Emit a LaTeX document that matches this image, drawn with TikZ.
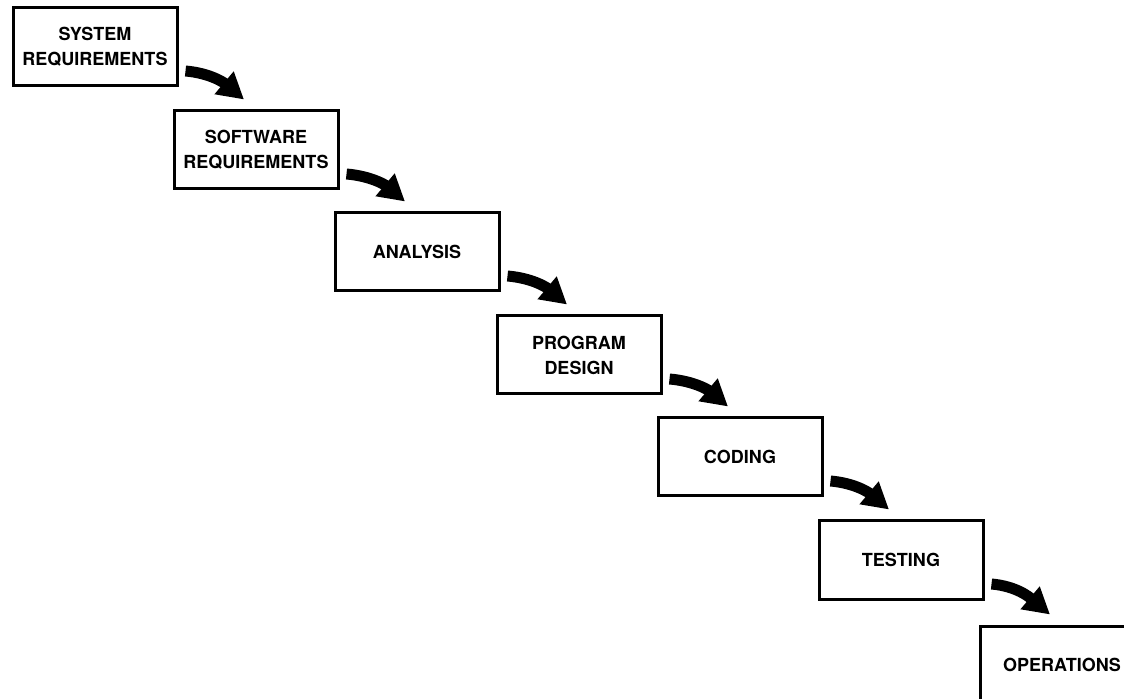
\documentclass[tikz,border=0pt]{standalone}
\usepackage{fontspec}
\setmainfont{TeX Gyre Heros}
\usetikzlibrary{arrows.meta}
\begin{document}
\begin{tikzpicture}[
    x=0.5pt, y=-0.5pt,
    stage/.style={draw, line width=1.5pt, minimum width=82pt, minimum height=39pt,
        inner sep=0pt, align=center, font=\fontsize{9}{12.5}\selectfont\bfseries},
    flow/.style={line width=5.5pt, -{Triangle[length=13pt, width=14pt]}},
]

% page frame (clips the last box)
\clip (0,0) rectangle (1124,699);

% === Stages, stepping down to the right ===
\node[stage] (sysreq) at (95,47) {SYSTEM\\REQUIREMENTS};
\node[stage] (swreq) at (256,150) {SOFTWARE\\REQUIREMENTS};
\node[stage] (analysis) at (417,252) {ANALYSIS};
\node[stage] (design) at (579,355) {PROGRAM\\DESIGN};
\node[stage] (coding) at (740,457) {CODING};
\node[stage] (testing) at (901,560) {TESTING};
\node[stage] (ops) at (1062,665) {OPERATIONS};

% === Curved arrows between stages ===
\draw[flow] ([xshift=3.5pt, yshift=-12pt]sysreq.east) to[out=-5, in=140] ([xshift=-6pt, yshift=5pt]swreq.north);
\draw[flow] ([xshift=3.5pt, yshift=-12pt]swreq.east) to[out=-5, in=140] ([xshift=-6pt, yshift=5pt]analysis.north);
\draw[flow] ([xshift=3.5pt, yshift=-12pt]analysis.east) to[out=-5, in=140] ([xshift=-6pt, yshift=5pt]design.north);
\draw[flow] ([xshift=3.5pt, yshift=-12pt]design.east) to[out=-5, in=140] ([xshift=-6pt, yshift=5pt]coding.north);
\draw[flow] ([xshift=3.5pt, yshift=-12pt]coding.east) to[out=-5, in=140] ([xshift=-6pt, yshift=5pt]testing.north);
\draw[flow] ([xshift=3.5pt, yshift=-12pt]testing.east) to[out=-5, in=140] ([xshift=-6pt, yshift=5pt]ops.north);

\end{tikzpicture}
\end{document}
